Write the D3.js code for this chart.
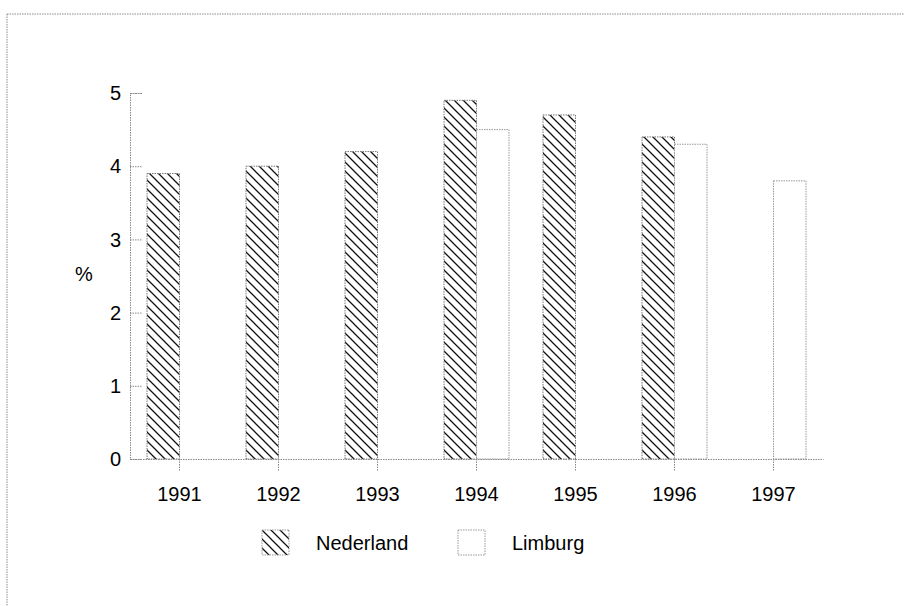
<!DOCTYPE html>
<html lang="nl">
<head>
    <meta charset="UTF-8">
    <title>Nederland / Limburg</title>
    <script src="https://d3js.org/d3.v7.min.js"></script>
    <style>
        body { margin: 0; background: #fff; }
        #chart svg { display: block; }
        .lbl { font-family: "Liberation Sans", Arial, sans-serif; font-size: 20px; fill: #000; }
        .dot { stroke: #8a8a8a; stroke-width: 1; stroke-dasharray: 1.5,1; fill: none; }
    </style>
</head>
<body>
<div id="chart"></div>
<script>
    // --- data ---
    const years = ["1991", "1992", "1993", "1994", "1995", "1996", "1997"];
    const series = ["Nederland", "Limburg"];
    const nederland = [3.9, 4.0, 4.2, 4.9, 4.7, 4.4, null];
    const limburg = [null, null, null, 4.5, null, 4.3, 3.8];
    const yTicks = [0, 1, 2, 3, 4, 5];

    const W = 904, H = 606;
    const svg = d3.select("#chart").append("svg").attr("width", W).attr("height", H);

    // hatch pattern for Nederland
    const defs = svg.append("defs");
    const pat = defs.append("pattern").attr("id", "hatch")
        .attr("patternUnits", "userSpaceOnUse").attr("width", 9).attr("height", 9);
    pat.append("rect").attr("width", 9).attr("height", 9).attr("fill", "#fff");
    pat.append("path").attr("d", "M-1,-1 L10,10 M-1,8 L1,10 M8,-1 L10,1")
        .attr("stroke", "#111").attr("stroke-width", 1.3);

    // scanned frame (top and left edges only)
    svg.append("line").attr("class", "dot").attr("x1", 7).attr("x2", W).attr("y1", 14).attr("y2", 14);
    svg.append("line").attr("class", "dot").attr("x1", 7).attr("x2", 7).attr("y1", 14).attr("y2", H);

    const plotL = 130, plotR = 823, plotT = 93, plotB = 459;
    const x = d3.scaleBand().domain(years).range([plotL, plotR]);
    const xs = d3.scaleBand().domain(series).range([0, 65]);
    const y = d3.scaleLinear().domain([0, 5]).range([plotB, plotT]);
    const off = (x.bandwidth() - 65) / 2;

    // y axis
    const ya = svg.append("g").attr("transform", `translate(${plotL},0)`)
        .call(d3.axisRight(y).tickValues(yTicks).tickSize(12).tickFormat(""));
    ya.selectAll("line, path").attr("class", "dot");
    ya.select(".domain").attr("d", `M0,${y(5)}V${y(0)}`);
    svg.append("g").selectAll("text").data(yTicks).join("text")
        .attr("class", "lbl").attr("x", 121).attr("y", d => y(d)).attr("dy", "0.36em")
        .attr("text-anchor", "end").text(d => d);
    svg.append("text").attr("class", "lbl").attr("x", 84).attr("y", 274).attr("dy", "0.36em")
        .attr("text-anchor", "middle").text("%");

    // bars
    const groups = svg.append("g").selectAll("g").data(years).join("g")
        .attr("transform", d => `translate(${x(d) + off},0)`);
    groups.filter((d, i) => nederland[i] != null).append("rect")
        .attr("x", xs("Nederland")).attr("width", xs.bandwidth())
        .attr("y", d => y(nederland[years.indexOf(d)]))
        .attr("height", d => y(0) - y(nederland[years.indexOf(d)]))
        .attr("fill", "url(#hatch)").attr("stroke", "#777").attr("stroke-width", 1).attr("stroke-dasharray", "1.5,1");
    groups.filter((d, i) => limburg[i] != null).append("rect")
        .attr("x", xs("Limburg")).attr("width", xs.bandwidth())
        .attr("y", d => y(limburg[years.indexOf(d)]))
        .attr("height", d => y(0) - y(limburg[years.indexOf(d)]))
        .attr("fill", "#fff").attr("stroke", "#999").attr("stroke-width", 1).attr("stroke-dasharray", "1.5,1");

    // x axis
    const xa = svg.append("g").attr("transform", `translate(0,${plotB})`)
        .call(d3.axisBottom(x).tickSize(12).tickSizeOuter(0).tickFormat(""));
    xa.selectAll("line, path").attr("class", "dot");
    svg.append("g").selectAll("text").data(years).join("text")
        .attr("class", "lbl").attr("x", d => x(d) + x.bandwidth() / 2).attr("y", 494)
        .attr("dy", "0.36em").attr("text-anchor", "middle").text(d => d);

    // legend
    const legX = [262, 458];
    const leg = svg.append("g").selectAll("g").data(series).join("g")
        .attr("transform", (d, i) => `translate(${legX[i]},530)`);
    leg.append("rect").attr("width", 27).attr("height", 25)
        .attr("fill", (d, i) => i === 0 ? "url(#hatch)" : "#fff")
        .attr("stroke", "#999").attr("stroke-dasharray", "1.5,1");
    leg.append("text").attr("class", "lbl").attr("x", 54).attr("y", 13).attr("dy", "0.36em").text(d => d);
</script>
</body>
</html>
